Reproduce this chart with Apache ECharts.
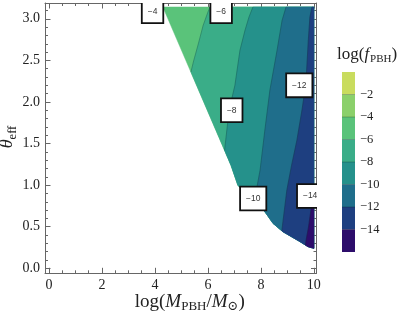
<!DOCTYPE html>
<html><head><meta charset="utf-8">
<script src="https://cdn.jsdelivr.net/npm/echarts@6/dist/echarts.min.js"></script>
<style>html,body{margin:0;padding:0;background:#fff}#c{width:399px;height:316px}</style>
</head><body><div id="c"></div>
<script>
// ---------- data ----------
const PI = 3.1416;
const xMajor = [0, 2, 4, 6, 8, 10];
const xMinor = [0.5, 1, 1.5, 2.5, 3, 3.5, 4.5, 5, 5.5, 6.5, 7, 7.5, 8.5, 9, 9.5];
const yMajor = [0, 0.5, 1, 1.5, 2, 2.5, 3];
const yMinor = [0.1, 0.2, 0.3, 0.4, 0.6, 0.7, 0.8, 0.9, 1.1, 1.2, 1.3, 1.4, 1.6, 1.7, 1.8, 1.9,
                2.1, 2.2, 2.3, 2.4, 2.6, 2.7, 2.8, 2.9, 3.1];

// colour levels of log(f_PBH): band i spans bandLevels[i] .. bandLevels[i+1]
const bandLevels = [0, -2, -4, -6, -8, -10, -12, -14, -16];
const bandColors = ['#c9dc5e', '#8bd06b', '#5ac37a', '#3aad88', '#25918b', '#1f6e8b', '#1e3f80', '#2d0d6b'];
const cbTicks = [-2, -4, -6, -8, -10, -12, -14];

// lower-left edge of the computed region (log M, theta_eff)
const domainEdge = [[4.30, 3.1416], [6.87, 1.24], [7.13, 1.00], [7.44, 0.89], [7.81, 0.78], [8.15, 0.68],
                    [8.46, 0.54], [8.83, 0.44], [9.48, 0.32], [9.78, 0.26], [10.0, 0.24]];
// contour lines, top to bottom
const line6  = [[6.08, 3.1416], [6.00, 3.08], [5.82, 2.92], [5.64, 2.70], [5.45, 2.48], [5.36, 2.36]];
const line8  = [[7.70, 3.1416], [7.55, 3.02], [7.40, 2.86], [7.21, 2.62], [7.02, 2.20], [6.80, 1.90], [6.63, 1.42]];
const line10 = [[8.95, 3.1416], [8.80, 2.98], [8.61, 2.62], [8.34, 2.14], [8.15, 1.66], [7.97, 1.18], [7.83, 0.94], [7.81, 0.78]];
const line12 = [[9.93, 3.1416], [9.85, 3.02], [9.79, 2.74], [9.70, 2.22], [9.55, 1.90], [9.36, 1.54], [9.16, 1.24], [8.98, 0.94], [8.79, 0.45]];
const line14 = [[10.0, 0.88], [9.89, 0.70], [9.80, 0.50], [9.72, 0.36], [9.68, 0.28]];
const contourLines = [line6, line8, line10, line12, line14];

// contour labels
const labelX = [3.91, 6.50, 6.90, 9.45, 7.71, 9.86];
const labelY = [3.09, 3.09, 1.90, 2.20, 0.84, 0.87];
const labelText = ['−4', '−6', '−8', '−12', '−10', '−14'];

// ---------- build band polygons (data space) ----------
const polys = [{ pts: domainEdge.concat([[10, PI]]), color: bandColors[2] }];
contourLines.forEach((L, k) => {
  const end = L[L.length - 1];
  const rest = domainEdge.filter(p => p[1] < end[1] - 1e-9);
  polys.push({ pts: L.concat(rest, [[10, L[0][1]]]), color: bandColors[3 + k] });
});

const SERIF = '"Liberation Serif", "DejaVu Serif", serif';
const FRAME = '#666';
const X_MIN = -0.15, X_MAX = 10.1, Y_MIN = -0.06, Y_MAX = 3.19;

function xAx(position, ticks, len, showLabel, showLine) {
  return {
    type: 'value', gridIndex: 0, position, min: X_MIN, max: X_MAX,
    axisLine: { show: showLine, onZero: false, lineStyle: { color: FRAME, width: 1 } },
    axisTick: { show: true, inside: true, length: len, customValues: ticks, lineStyle: { color: FRAME, width: 1 } },
    axisLabel: showLabel ? { show: true, customValues: ticks, margin: 5, color: '#222', fontFamily: SERIF, fontSize: 14,
                             formatter: v => String(Math.round(v)) } : { show: false },
    splitLine: { show: false }
  };
}
function yAx(position, ticks, len, showLabel, showLine) {
  return {
    type: 'value', gridIndex: 0, position, min: Y_MIN, max: Y_MAX,
    axisLine: { show: showLine, onZero: false, lineStyle: { color: FRAME, width: 1 } },
    axisTick: { show: true, inside: true, length: len, customValues: ticks, lineStyle: { color: FRAME, width: 1 } },
    axisLabel: showLabel ? { show: true, customValues: ticks, margin: 5, color: '#222', fontFamily: SERIF, fontSize: 14,
                             formatter: v => v.toFixed(1) } : { show: false },
    splitLine: { show: false }
  };
}

const xAxes = [xAx('bottom', xMajor, 5.5, true, true), xAx('bottom', xMinor, 3, false, false),
               xAx('top', xMajor, 5.5, false, true), xAx('top', xMinor, 3, false, false)];
xAxes[0].name = '{n|log(}{i|M}{s|PBH}{n|/}{i|M}{s|⊙}{n|)}';
xAxes[0].nameLocation = 'middle';
xAxes[0].nameGap = 19;
xAxes[0].nameMoveOverlap = false;
xAxes[0].nameTextStyle = {
  color: '#222', fontFamily: SERIF, padding: [0, 0, 0, 18],
  rich: {
    n: { fontSize: 19, fontFamily: SERIF, color: '#222', verticalAlign: 'top', lineHeight: 24 },
    i: { fontSize: 19, fontFamily: SERIF, fontStyle: 'italic', color: '#222', verticalAlign: 'top', lineHeight: 24 },
    s: { fontSize: 13, fontFamily: SERIF, color: '#222', verticalAlign: 'top', lineHeight: 24, padding: [8, 0, 0, 0] }
  }
};
const yAxes = [yAx('left', yMajor, 5.5, true, true), yAx('left', yMinor, 3, false, false),
               yAx('right', yMajor, 5.5, false, true), yAx('right', yMinor, 3, false, false)];

// colourbar axes
xAxes.push({ type: 'value', gridIndex: 1, min: 0, max: 1, show: false });
yAxes.push({
  type: 'value', gridIndex: 1, position: 'right', min: -16, max: 0,
  axisLine: { show: false }, axisTick: { show: false }, splitLine: { show: false },
  axisLabel: { show: true, customValues: cbTicks, margin: 5, color: '#222', fontFamily: SERIF, fontSize: 12.5,
               formatter: v => '−' + Math.abs(Math.round(v)) }
});

const chart = echarts.init(document.getElementById('c'), null, { renderer: 'canvas' });
chart.setOption({
  animation: false,
  backgroundColor: '#fff',
  title: {
    text: '{n|log(}{i|f}{s|PBH}{n|)}', left: 332, top: 41,
    textStyle: {
      fontWeight: 'normal',
      rich: {
        n: { fontSize: 17, fontFamily: SERIF, fontWeight: 'normal', color: '#222', verticalAlign: 'top', lineHeight: 22 },
        i: { fontSize: 17, fontFamily: SERIF, fontWeight: 'normal', fontStyle: 'italic', color: '#222', verticalAlign: 'top', lineHeight: 22 },
        s: { fontSize: 11, fontFamily: SERIF, fontWeight: 'normal', color: '#222', verticalAlign: 'top', lineHeight: 22, padding: [8, 0, 0, 1] }
      }
    }
  },
  graphic: [{
    type: 'text', x: 10, y: 137, rotation: Math.PI / 2,
    style: {
      text: '{i|θ}{s|eff}', align: 'center', verticalAlign: 'middle',
      rich: {
        i: { fontSize: 18, fontFamily: SERIF, fontStyle: 'italic', fill: '#222', color: '#222', verticalAlign: 'top', lineHeight: 24 },
        s: { fontSize: 12.5, fontFamily: SERIF, fill: '#222', color: '#222', verticalAlign: 'top', lineHeight: 24, padding: [8, 0, 0, 0] }
      }
    }
  }],
  grid: [
    { left: 45, top: 3, width: 271.5, height: 270.3, containLabel: false, outerBoundsMode: 'none' },
    { left: 342, top: 72, width: 13, height: 180, containLabel: false, outerBoundsMode: 'none' }
  ],
  xAxis: xAxes,
  yAxis: yAxes,
  series: [
    {
      type: 'custom', xAxisIndex: 0, yAxisIndex: 0, clip: true, z: 2,
      data: polys.map(p => p.pts[0]),
      renderItem: (params, api) => {
        const p = polys[params.dataIndex];
        return { type: 'polygon', shape: { points: p.pts.map(q => api.coord(q)) },
                 style: { fill: p.color, stroke: p.color, lineWidth: 0.5 } };
      }
    },
    {
      type: 'custom', xAxisIndex: 0, yAxisIndex: 0, clip: true, z: 3,
      data: contourLines.map(L => L[0]),
      renderItem: (params, api) => {
        const L = contourLines[params.dataIndex];
        return { type: 'polyline', shape: { points: L.map(q => api.coord(q)) },
                 style: { fill: null, stroke: 'rgba(10,50,40,0.35)', lineWidth: 0.8 } };
      }
    },
    {
      type: 'custom', xAxisIndex: 0, yAxisIndex: 0, clip: true, z: 4,
      data: labelX.map((x, i) => [x, labelY[i]]),
      renderItem: (params, api) => {
        const i = params.dataIndex;
        const c = api.coord([labelX[i], labelY[i]]);
        return {
          type: 'text', x: c[0], y: c[1],
          style: {
            text: labelText[i], align: 'center', verticalAlign: 'middle',
            font: '8.5px "Liberation Sans", Arial, sans-serif', fill: '#333',
            backgroundColor: '#fff', borderColor: '#111', borderWidth: 1.8,
            padding: [7, 5, 6, 5]
          }
        };
      }
    },
    {
      type: 'custom', xAxisIndex: 4, yAxisIndex: 4, clip: false, z: 2,
      data: bandColors.map((c, i) => [0, bandLevels[i]]),
      renderItem: (params, api) => {
        const i = params.dataIndex;
        const a = api.coord([0, bandLevels[i]]);
        const b = api.coord([1, bandLevels[i + 1]]);
        const children = [{ type: 'rect', shape: { x: a[0], y: a[1], width: b[0] - a[0], height: b[1] - a[1] },
                            style: { fill: bandColors[i] } }];
        if (i < bandColors.length - 1) {
          children.push({ type: 'line', shape: { x1: a[0], y1: b[1], x2: b[0], y2: b[1] },
                          style: { stroke: 'rgba(0,0,0,0.22)', lineWidth: 1 }, z2: 5 });
        }
        return { type: 'group', children };
      }
    }
  ]
});
</script></body></html>
